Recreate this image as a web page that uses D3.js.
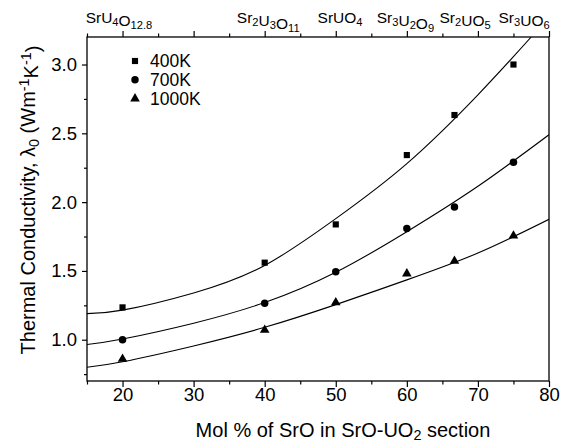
<!DOCTYPE html>
<html lang="en">
<head>
    <meta charset="UTF-8">
    <title>Thermal conductivity vs SrO content</title>
    <style>
        html, body {
            margin: 0;
            padding: 0;
            background: #fff;
        }

        svg text {
            font-family: "Liberation Sans", Arial, sans-serif;
            fill: #000;
        }
    </style>
</head>
<body>
<div id="chart"></div>
<script src="https://cdn.jsdelivr.net/npm/d3@7"></script>
<script>
    // measured points (mol % SrO)
    const molPct = [20, 40, 50, 60, 66.7, 75]
    const k400 = [1.235, 1.56, 1.838, 2.342, 2.633, 3.0]
    const k700 = [1.0, 1.265, 1.494, 1.809, 1.965, 2.29]
    const k1000 = [0.86, 1.07, 1.27, 1.48, 1.572, 1.756]

    // fitted lines
    const fitX400 = [15, 20, 30, 40, 50, 60, 70, 77.5]
    const fit400 = [1.19, 1.215, 1.34, 1.54, 1.88, 2.28, 2.78, 3.2]
    const fitX = [15, 20, 30, 40, 50, 60, 70, 80]
    const fit700 = [0.965, 1.005, 1.12, 1.27, 1.49, 1.785, 2.115, 2.49]
    const fit1000 = [0.80, 0.84, 0.955, 1.09, 1.255, 1.435, 1.63, 1.875]

    const seriesNames = ['400K', '700K', '1000K']

    // phases on the top axis, label centre in mol %
    const phaseNames = ['SrU4O12.8', 'Sr2U3O11', 'SrUO4', 'Sr3U2O9', 'Sr2UO5', 'Sr3UO6']
    const phaseLabelX = [19.5, 40.5, 50.6, 59.8, 68.2, 76.5]

    const xTicks = [20, 30, 40, 50, 60, 70, 80]
    const xMinor = [15, 25, 35, 45, 55, 65, 75]
    const yTicks = [1.0, 1.5, 2.0, 2.5, 3.0]
    const yMinor = [0.75, 1.25, 1.75, 2.25, 2.75]

    const width = 574, height = 444
    const margin = {top: 37, right: 25, bottom: 63, left: 87}

    const svg = d3.select('#chart').append('svg')
        .attr('width', width)
        .attr('height', height)

    const x = d3.scaleLinear().domain([15, 80]).range([margin.left, width - margin.right])
    const y = d3.scaleLinear().domain([0.7, 3.2]).range([height - margin.bottom, margin.top])

    const x0 = x.range()[0], x1 = x.range()[1]
    const yb = y.range()[0], yt = y.range()[1]

    // split formula into normal / subscript parts
    const addFormula = (sel, str) => {
        str.split(/(\d[\d.]*)/).filter(s => s.length).forEach(part => {
            const isSub = /^\d/.test(part)
            sel.append('tspan')
                .attr('font-size', isSub ? '0.72em' : null)
                .attr('dy', isSub ? '0.28em' : null)
                .text(part)
            if (isSub) sel.append('tspan').attr('dy', '-0.2em').text('')
        })
    }

    const styleAxis = (g) => {
        g.select('.domain').remove()
        g.selectAll('.tick line').attr('stroke', '#000').attr('stroke-width', 1.2)
    }

    // bottom axis
    svg.append('g')
        .attr('transform', `translate(0,${yb})`)
        .call(d3.axisBottom(x).tickValues(xMinor).tickSize(3.5).tickFormat(''))
        .call(styleAxis)
    svg.append('g')
        .attr('transform', `translate(0,${yb})`)
        .call(d3.axisBottom(x).tickValues(xTicks).tickSize(6).tickPadding(1).tickFormat(d3.format('d')))
        .call(styleAxis)
        .call(g => g.selectAll('text').attr('font-size', 18.5).attr('font-family', null))

    // top axis
    svg.append('g')
        .attr('transform', `translate(0,${yt})`)
        .call(d3.axisTop(x).tickValues(xMinor).tickSize(3.5).tickFormat(''))
        .call(styleAxis)
    svg.append('g')
        .attr('transform', `translate(0,${yt})`)
        .call(d3.axisTop(x).tickValues(xTicks).tickSize(6).tickFormat(''))
        .call(styleAxis)

    // left axis
    svg.append('g')
        .attr('transform', `translate(${x0},0)`)
        .call(d3.axisLeft(y).tickValues(yMinor).tickSize(3).tickFormat(''))
        .call(styleAxis)
    svg.append('g')
        .attr('transform', `translate(${x0},0)`)
        .call(d3.axisLeft(y).tickValues(yTicks).tickSize(5).tickPadding(5).tickFormat(d3.format('.1f')))
        .call(styleAxis)
        .call(g => g.selectAll('text').attr('font-size', 18.5).attr('font-family', null))

    // frame
    svg.append('rect')
        .attr('x', x0).attr('y', yt)
        .attr('width', x1 - x0).attr('height', yb - yt)
        .attr('fill', 'none').attr('stroke', '#000').attr('stroke-width', 1.3)

    // phase labels above the plot
    phaseNames.forEach((name, i) => {
        const t = svg.append('text')
            .attr('x', x(phaseLabelX[i]))
            .attr('y', 23)
            .attr('text-anchor', 'middle')
            .attr('font-size', 15.5)
        addFormula(t, name)
    })

    svg.append('clipPath').attr('id', 'plot-clip')
        .append('rect')
        .attr('x', x0).attr('y', yt)
        .attr('width', x1 - x0).attr('height', yb - yt)

    const line = d3.line().x(d => x(d[0])).y(d => y(d[1])).curve(d3.curveNatural)

    const fits = [
        d3.zip(fitX400, fit400),
        d3.zip(fitX, fit700),
        d3.zip(fitX, fit1000)
    ]
    const points = [k400, k700, k1000]
    const symbols = [
        d3.symbol().type(d3.symbolSquare).size(38),
        d3.symbol().type(d3.symbolCircle).size(44),
        d3.symbol().type(d3.symbolTriangle).size(40)
    ]

    const plot = svg.append('g').attr('clip-path', 'url(#plot-clip)')

    fits.forEach(f => {
        plot.append('path')
            .datum(f)
            .attr('d', line)
            .attr('fill', 'none')
            .attr('stroke', '#000')
            .attr('stroke-width', 1.1)
    })

    points.forEach((vals, s) => {
        svg.append('g').selectAll('path')
            .data(d3.zip(molPct, vals))
            .join('path')
            .attr('d', symbols[s])
            .attr('transform', d => `translate(${x(d[0])},${y(d[1])})`)
            .attr('fill', '#000')
    })

    // legend
    const legend = svg.append('g').attr('transform', 'translate(135,61)')
    seriesNames.forEach((name, i) => {
        const row = legend.append('g').attr('transform', `translate(0,${i * 18.8})`)
        row.append('path').attr('d', symbols[i]).attr('fill', '#000')
        row.append('text')
            .attr('x', 15)
            .attr('y', 6)
            .attr('font-size', 17.5)
            .text(name)
    })

    // axis titles
    const xt = svg.append('text')
        .attr('x', 343)
        .attr('y', 437)
        .attr('text-anchor', 'middle')
        .attr('font-size', 20)
    xt.append('tspan').text('Mol % of SrO in SrO-UO')
    xt.append('tspan').attr('font-size', '0.72em').attr('dy', '0.2em').text('2')
    xt.append('tspan').attr('dy', '-0.14em').text(' section')

    const yl = svg.append('text')
        .attr('transform', `translate(35,${(yt + yb) / 2 - 9}) rotate(-90)`)
        .attr('text-anchor', 'middle')
        .attr('font-size', 20)
    yl.append('tspan').text('Thermal Conductivity, λ')
    yl.append('tspan').attr('font-size', '0.72em').attr('dy', '0.28em').text('0')
    yl.append('tspan').attr('dy', '-0.2em').text(' (Wm')
    yl.append('tspan').attr('font-size', '0.72em').attr('dy', '-0.45em').text('-1')
    yl.append('tspan').attr('dy', '0.45em').text('K')
    yl.append('tspan').attr('font-size', '0.72em').attr('dy', '-0.45em').text('-1')
    yl.append('tspan').attr('dy', '0.45em').text(')')
</script>
</body>
</html>
